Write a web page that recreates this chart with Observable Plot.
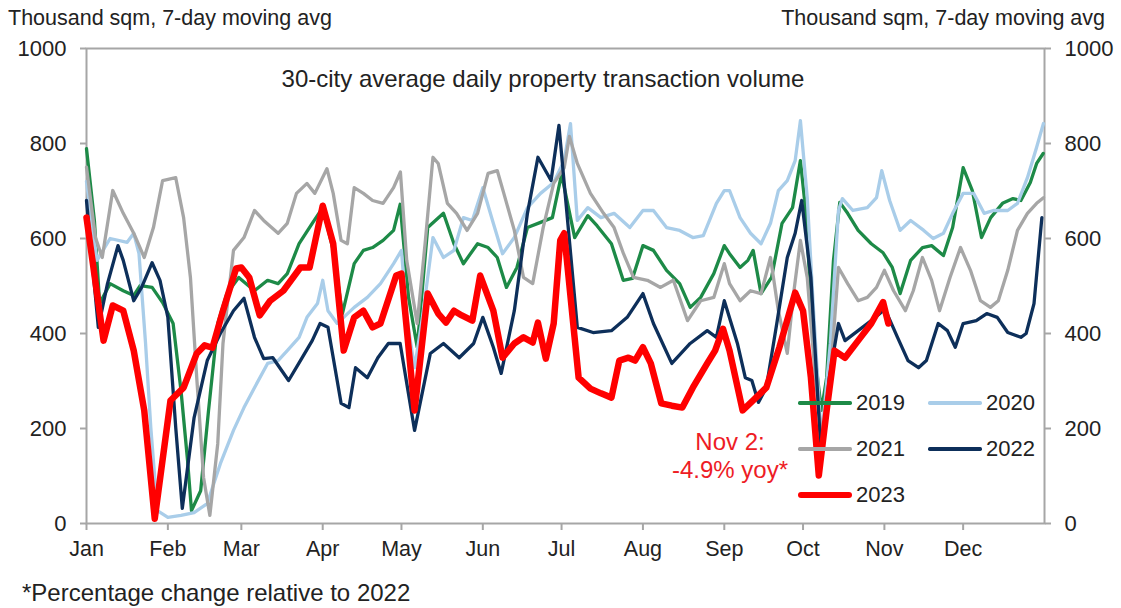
<!DOCTYPE html>
<html>
<head>
<meta charset="utf-8">
<script src="https://cdn.jsdelivr.net/npm/d3@7"></script>
<script src="https://cdn.jsdelivr.net/npm/@observablehq/plot@0.6"></script>
<style>
  html, body { margin: 0; padding: 0; background: #fff; }
  #wrap { position: relative; width: 1121px; height: 608px; overflow: hidden;
          font-family: "Liberation Sans", Arial, sans-serif; color: #222; }
  #chart { position: absolute; left: 0; top: 30px; }
  .abs { position: absolute; white-space: nowrap; }
  .lg { position: absolute; }
</style>
</head>
<body>
<div id="wrap">
  <div class="abs" style="left:8px; top:4px; font-size:21.5px; line-height:28px;">Thousand sqm, 7-day moving avg</div>
  <div class="abs" style="right:16px; top:4px; font-size:21.5px; line-height:28px; text-align:right;">Thousand sqm, 7-day moving avg</div>
  <div id="chart"></div>
  <div class="abs" style="left:0; width:1086px; top:64px; font-size:24px; line-height:30px; text-align:center;">30-city average daily property transaction volume</div>
  <div class="abs" style="left:630px; width:200px; top:428px; font-size:24px; line-height:28px; text-align:center; color:#ee1c25;">Nov 2:<br>-4.9% yoy*</div>
  <div id="legend"></div>
  <div class="abs" style="left:22px; top:578px; font-size:24px; line-height:30px;">*Percentage change relative to 2022</div>
</div>
<script>
// ---- data (day of year, thousand sqm, 7-day moving avg) ----
const monthStarts = [0, 31, 59, 90, 120, 151, 181, 212, 243, 273, 304, 334];
const monthLabels = ["Jan","Feb","Mar","Apr","May","Jun","Jul","Aug","Sep","Oct","Nov","Dec"];
const yTicks = [0, 200, 400, 600, 800, 1000];
const years = ["2019", "2020", "2021", "2022", "2023"];

const y2019 = [[0,789],[3,638],[5,463],[9,505],[14,490],[18,480],[20.5,501],[25,497],[29,465],[33,421],[36,280],[38.5,133],[40,27],[43.5,69],[46.5,238],[50,421],[53.5,484],[58,518],[64,490],[69,512],[73,505],[76.5,526],[81,589],[86,632],[90,665],[94,575],[97.5,442],[102,547],[105.5,575],[109,581],[113,596],[117,617],[119.5,672],[122.7,476],[126,371],[130,623],[136,653],[140,589],[143.6,547],[149,589],[153,581],[156.5,560],[160,497],[164,539],[168,623],[173,634],[177.5,644],[181,735],[186,602],[191,648],[194.5,627],[200,589],[204.5,512],[208,516],[212,585],[216,575],[221,533],[226,505],[230,455],[234,476],[239,526],[243,585],[245,568],[249,539],[252,554],[254,575],[257,484],[261,518],[265,632],[269,665],[272,764],[274,659],[277,379],[280,238],[282,307],[284.6,554],[287,676],[290,653],[294,617],[299,589],[303.5,570],[307,539],[310,484],[314,554],[318.5,581],[322,585],[326.5,564],[330,623],[334,749],[337.5,701],[341,602],[344.5,644],[349,674],[353,684],[356,680],[359.6,718],[362,758],[364.5,779]];

const y2020 = [[0,720],[4,554],[9,600],[15.5,592],[18,611],[20,568],[22.5,379],[24.5,202],[27,27],[31,13],[36,17],[41,23],[46,42],[51,126],[56,196],[60,244],[64,286],[69,337],[73,343],[76.5,364],[81,392],[84,434],[88,463],[90,512],[92,448],[95.5,421],[102,455],[107,476],[112,505],[117,547],[120,575],[122,434],[125,328],[128,434],[132,602],[136,560],[140,575],[143.6,644],[147,638],[151,707],[155,632],[158.5,568],[163,602],[168,665],[173,695],[178,718],[182,764],[184.4,842],[187,638],[191,665],[196,644],[201,653],[207,623],[212,659],[216,659],[221,623],[226,617],[231,602],[235,606],[240,674],[243,701],[245,701],[249,644],[253,611],[257,589],[260.6,632],[263.6,701],[267,722],[270,764],[272,848],[274.6,686],[277,448],[280,175],[283.4,379],[286.5,659],[288,684],[292,659],[297.5,665],[301,686],[303,743],[306,680],[310,617],[314,638],[319,617],[322.6,600],[326.5,611],[330,653],[334,695],[338,695],[342,653],[345.5,659],[351,659],[354.7,674],[358.5,728],[362,792],[364.6,842]];

const y2021 = [[0,750],[3.4,602],[6,560],[10,701],[14,653],[18,611],[22,560],[25.5,623],[29,722],[34,728],[37,644],[39.6,518],[42,307],[44.6,97],[47,17],[50,168],[52,379],[56,575],[60,602],[64,659],[67.5,638],[73,611],[76.5,632],[80,695],[84,716],[87,695],[91.6,747],[94,695],[97,596],[99.4,589],[102,707],[105.5,695],[109,680],[113,674],[117,707],[119.6,740],[122,554],[126,421],[129,589],[132,771],[134,758],[137.5,674],[141,653],[145,617],[149,653],[153,737],[156.5,743],[159,695],[163,617],[166.5,518],[170,505],[174,623],[178,716],[182,749],[184,815],[187,758],[192,695],[197,653],[201,623],[204.6,568],[208.4,518],[213.7,512],[218.7,497],[223.6,512],[229,427],[234,469],[239,476],[243,547],[245,505],[249,469],[253,490],[257,484],[260.6,560],[263.6,448],[267,358],[269.4,484],[272,596],[274.6,518],[277.7,307],[280.4,168],[283.4,307],[286.5,539],[290,505],[294,469],[297.5,476],[301,497],[304,533],[307.5,490],[312,448],[315,490],[318.5,560],[322,512],[325,448],[329,518],[333,581],[336.8,533],[340.6,469],[344.4,455],[347.4,469],[351,533],[354.7,617],[358.5,653],[362,674],[364.6,686]];

const y2022 = [[0,680],[4.5,413],[8,505],[12,585],[14,554],[18,469],[21,497],[25,549],[28,512],[31,434],[34,202],[36.5,32],[41,223],[46,343],[51,400],[56,448],[60,474],[64,392],[67.5,347],[71,349],[77,301],[81.5,343],[86,385],[89,421],[92,413],[97,253],[100,244],[102.5,328],[107,307],[111,349],[115,379],[119.5,379],[125,196],[131,358],[136,379],[142,349],[147.5,379],[151,434],[155,371],[158,316],[163,448],[168,653],[172,771],[177,722],[180,838],[187,413],[193,402],[200,406],[206,434],[212,484],[216,421],[223,337],[230,379],[236.5,406],[240,392],[243,469],[248,379],[251,307],[253.5,301],[256,255],[259,286],[263,421],[267,560],[270,611],[272.5,680],[276,518],[280,133],[283,307],[286.5,421],[289,385],[294,406],[299,427],[303.5,448],[305,442],[309,392],[313,343],[317,328],[320,343],[324.5,421],[328,406],[331,371],[334,421],[339,427],[343,442],[347,434],[351,402],[356,392],[358,400],[361,463],[364,644]];

const y2023 = [[0,644],[6.5,385],[10,459],[14,448],[18,364],[22,238],[26,10],[32,259],[37,286],[42,358],[45,375],[48,370],[52,448],[57,537],[59,539],[62,518],[66,438],[70,469],[75,490],[81.5,539],[85,539],[90,669],[94,589],[98,364],[102,434],[105.5,448],[109,413],[112,421],[118,522],[120,526],[125,238],[130,484],[134,442],[137,423],[140,448],[143,438],[147,427],[150,522],[155,448],[158.5,349],[163,379],[166.5,392],[170,381],[172,423],[175,347],[178,421],[180.5,596],[182,611],[187.5,307],[192,284],[196,274],[200,265],[203,343],[206.5,349],[209,343],[212,371],[215,337],[219,253],[223,248],[227,244],[231,286],[236.5,337],[239.5,364],[242.5,410],[245,364],[250,238],[254,259],[259,286],[264,371],[270,486],[273,448],[276,307],[279,101],[282,238],[285,364],[289,349],[294,385],[299,421],[303.5,466],[305.5,421]];

const seriesData = [y2019, y2020, y2021, y2022, y2023];
const colors = ["#1d8a47", "#a9cde9", "#a6a6a6", "#0d2f5a", "#ff0000"];
const widths = [3.3, 3.3, 3.3, 3.3, 6.5];

// ---- build ----
const axisGray = "#a6a6a6";
const font = '"Liberation Sans", Arial, sans-serif';
const lineMarks = years.map((yr, i) =>
  Plot.line(seriesData[i], {x: d => d[0], y: d => d[1], stroke: colors[i], strokeWidth: widths[i],
    strokeLinejoin: "round", strokeLinecap: "round"}));

const chart = Plot.plot({
  width: 1121, height: 545,
  marginLeft: 86, marginRight: 77, marginTop: 18, marginBottom: 52,
  x: {domain: [0, 365]},
  y: {domain: [0, 1000]},
  style: {fontFamily: font, fontSize: "22px", color: "#222", background: "transparent", overflow: "visible"},
  marks: [
    Plot.axisY(yTicks, {anchor: "left", tickSize: 6, tickPadding: 14, stroke: axisGray, strokeWidth: 2, fill: "#222", fontSize: 22,
      tickFormat: d => String(d), label: null}),
    Plot.axisY(yTicks, {anchor: "right", tickSize: 6, tickPadding: 14, stroke: axisGray, strokeWidth: 2, fill: "#222", fontSize: 22,
      tickFormat: d => String(d), label: null}),
    Plot.axisX(monthStarts, {anchor: "bottom", tickSize: 7, tickPadding: 10, stroke: axisGray, strokeWidth: 2, fill: "#222", fontSize: 21.5,
      tickFormat: d => monthLabels[monthStarts.indexOf(d)], label: null}),
    Plot.frame({stroke: axisGray, strokeWidth: 2}),
    ...lineMarks
  ]
});
document.getElementById("chart").appendChild(chart);

// ---- legend overlay ----
const legendPos = [[798, 403], [928, 403], [798, 449], [928, 449], [798, 495]];
const legend = document.getElementById("legend");
years.forEach((yr, i) => {
  const [lx, ly] = legendPos[i];
  const ln = document.createElement("div");
  ln.className = "lg";
  ln.style.cssText = `left:${lx}px; top:${ly - widths[i] / 2}px; width:54px; height:${widths[i]}px; background:${colors[i]}; border-radius:${widths[i]/2}px;`;
  legend.appendChild(ln);
  const tx = document.createElement("div");
  tx.className = "abs";
  tx.style.cssText = `left:${lx + 58}px; top:${ly - 14}px; font-size:22px; line-height:28px;`;
  tx.textContent = yr;
  legend.appendChild(tx);
});
</script>
</body>
</html>
